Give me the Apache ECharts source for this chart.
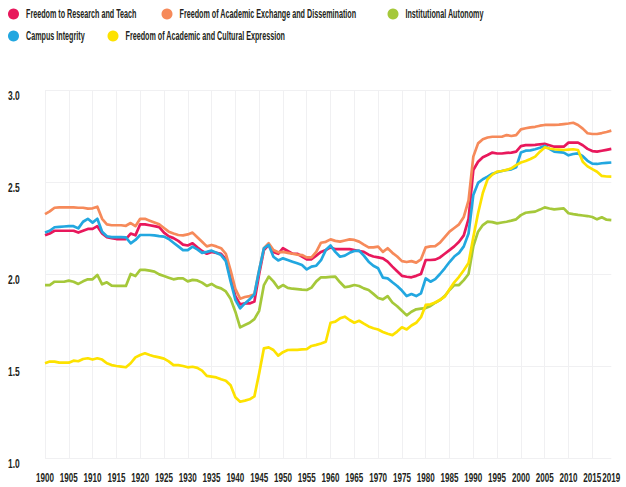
<!DOCTYPE html>
<html>
<head>
<meta charset="utf-8">
<script src="https://cdn.jsdelivr.net/npm/echarts@6/dist/echarts.min.js"></script>
<style>
    html, body { margin: 0; padding: 0; background: #fff; }
    #chart { width: 626px; height: 487px; }
</style>
</head>
<body>
<div id="chart"></div>
<script>
const years = [];
for (let y = 1900; y <= 2019; y++) years.push(String(y));

const yTicks = [1.0, 1.5, 2.0, 2.5, 3.0];

// Freedom to Research and Teach
const researchTeach = [
    2.21, 2.22, 2.235, 2.235, 2.235, 2.235, 2.235, 2.225, 2.235, 2.245,
    2.245, 2.26, 2.22, 2.20, 2.195, 2.19, 2.19, 2.19, 2.22, 2.21,
    2.27, 2.27, 2.265, 2.26, 2.255, 2.225, 2.205, 2.195, 2.18, 2.16,
    2.155, 2.167, 2.145, 2.125, 2.11, 2.12, 2.115, 2.11, 2.08, 1.98,
    1.88, 1.835, 1.84, 1.84, 1.85, 2.00, 2.13, 2.158, 2.12, 2.11,
    2.14, 2.125, 2.11, 2.11, 2.095, 2.08, 2.08, 2.10, 2.12, 2.13,
    2.145, 2.135, 2.135, 2.135, 2.135, 2.13, 2.125, 2.12, 2.105, 2.095,
    2.09, 2.085, 2.067, 2.04, 2.015, 1.99, 1.985, 1.982, 1.99, 2.00,
    2.076, 2.076, 2.078, 2.09, 2.11, 2.13, 2.15, 2.175, 2.21, 2.30,
    2.565, 2.61, 2.635, 2.647, 2.66, 2.655, 2.655, 2.658, 2.66, 2.665,
    2.695, 2.70, 2.70, 2.702, 2.705, 2.707, 2.70, 2.692, 2.692, 2.692,
    2.714, 2.714, 2.714, 2.70, 2.68, 2.668, 2.665, 2.67, 2.675, 2.68
];

// Freedom of Academic Exchange and Dissemination
const exchange = [
    2.325, 2.34, 2.36, 2.362, 2.362, 2.362, 2.362, 2.36, 2.36, 2.355,
    2.357, 2.366, 2.30, 2.27, 2.265, 2.265, 2.265, 2.262, 2.277, 2.26,
    2.30, 2.30, 2.29, 2.28, 2.27, 2.25, 2.23, 2.22, 2.212, 2.21,
    2.215, 2.225, 2.20, 2.175, 2.15, 2.158, 2.15, 2.14, 2.11, 2.02,
    1.92, 1.866, 1.875, 1.88, 1.89, 2.02, 2.14, 2.167, 2.13, 2.118,
    2.12, 2.115, 2.11, 2.105, 2.103, 2.09, 2.09, 2.12, 2.17, 2.175,
    2.188, 2.18, 2.176, 2.182, 2.188, 2.185, 2.176, 2.16, 2.145, 2.145,
    2.149, 2.12, 2.14, 2.115, 2.095, 2.07, 2.065, 2.07, 2.062, 2.08,
    2.145, 2.15, 2.152, 2.17, 2.20, 2.23, 2.25, 2.27, 2.31, 2.40,
    2.638, 2.71, 2.732, 2.742, 2.746, 2.746, 2.746, 2.755, 2.75, 2.755,
    2.786, 2.792, 2.797, 2.80, 2.806, 2.81, 2.81, 2.81, 2.812, 2.815,
    2.818, 2.822, 2.81, 2.79, 2.765, 2.761, 2.761, 2.766, 2.772, 2.779
];

// Institutional Autonomy
const autonomy = [
    1.94, 1.94, 1.958, 1.958, 1.958, 1.964, 1.958, 1.946, 1.96, 1.971,
    1.971, 1.995, 1.944, 1.955, 1.937, 1.935, 1.935, 1.935, 2.00, 1.989,
    2.022, 2.022, 2.018, 2.013, 1.998, 1.989, 1.98, 1.971, 1.976, 1.976,
    1.96, 1.968, 1.965, 1.953, 1.935, 1.946, 1.93, 1.922, 1.905, 1.865,
    1.795, 1.71, 1.723, 1.735, 1.755, 1.80, 1.94, 1.986, 1.96, 1.924,
    1.94, 1.925, 1.92, 1.918, 1.915, 1.913, 1.926, 1.96, 1.982, 1.982,
    1.984, 1.986, 1.955, 1.928, 1.933, 1.94, 1.935, 1.922, 1.913, 1.892,
    1.87, 1.862, 1.88, 1.845, 1.825, 1.80, 1.775, 1.795, 1.808, 1.812,
    1.815, 1.826, 1.844, 1.858, 1.88, 1.913, 1.94, 1.94, 1.967, 2.00,
    2.15, 2.23, 2.266, 2.285, 2.282, 2.275, 2.28, 2.284, 2.29, 2.297,
    2.32, 2.333, 2.336, 2.339, 2.35, 2.362, 2.356, 2.351, 2.354, 2.357,
    2.33, 2.325, 2.321, 2.318, 2.315, 2.31, 2.297, 2.308, 2.295, 2.293
];

// Campus Integrity
const integrity = [
    2.225, 2.235, 2.254, 2.256, 2.258, 2.26, 2.26, 2.248, 2.284, 2.30,
    2.279, 2.30, 2.23, 2.205, 2.20, 2.20, 2.20, 2.199, 2.167, 2.185,
    2.212, 2.212, 2.212, 2.21, 2.206, 2.203, 2.19, 2.17, 2.15, 2.13,
    2.13, 2.149, 2.134, 2.115, 2.12, 2.127, 2.115, 2.103, 2.07, 1.96,
    1.86, 1.813, 1.84, 1.862, 1.89, 2.02, 2.14, 2.158, 2.094, 2.074,
    2.085, 2.076, 2.067, 2.058, 2.049, 2.025, 2.04, 2.045, 2.075, 2.13,
    2.155, 2.12, 2.094, 2.10, 2.115, 2.125, 2.127, 2.10, 2.067, 2.045,
    2.031, 1.98, 1.976, 1.955, 1.935, 1.91, 1.88, 1.891, 1.88, 1.895,
    1.976, 1.958, 1.972, 2.00, 2.031, 2.065, 2.095, 2.115, 2.15, 2.22,
    2.43, 2.495, 2.515, 2.529, 2.545, 2.553, 2.56, 2.565, 2.569, 2.58,
    2.66, 2.67, 2.672, 2.678, 2.686, 2.696, 2.68, 2.665, 2.662, 2.66,
    2.645, 2.652, 2.656, 2.64, 2.615, 2.60, 2.598, 2.602, 2.604, 2.606
];

// Freedom of Academic and Cultural Expression
const expression = [
    1.515, 1.524, 1.524, 1.518, 1.518, 1.518, 1.529, 1.526, 1.538, 1.542,
    1.535, 1.542, 1.535, 1.515, 1.505, 1.50, 1.497, 1.493, 1.515, 1.547,
    1.56, 1.569, 1.56, 1.552, 1.547, 1.54, 1.525, 1.505, 1.505, 1.50,
    1.493, 1.496, 1.49, 1.475, 1.446, 1.442, 1.438, 1.428, 1.42, 1.395,
    1.33, 1.306, 1.312, 1.319, 1.335, 1.46, 1.596, 1.601, 1.587, 1.556,
    1.575, 1.587, 1.588, 1.588, 1.59, 1.592, 1.609, 1.615, 1.622, 1.632,
    1.735, 1.741, 1.759, 1.768, 1.75, 1.735, 1.746, 1.73, 1.715, 1.705,
    1.698, 1.685, 1.675, 1.668, 1.687, 1.71, 1.699, 1.72, 1.735, 1.765,
    1.832, 1.835, 1.845, 1.86, 1.877, 1.917, 1.955, 1.985, 2.02, 2.06,
    2.20, 2.33, 2.44, 2.515, 2.54, 2.556, 2.56, 2.566, 2.574, 2.592,
    2.606, 2.614, 2.625, 2.638, 2.665, 2.688, 2.682, 2.678, 2.676, 2.674,
    2.676, 2.678, 2.674, 2.61, 2.585, 2.57, 2.556, 2.533, 2.53, 2.529
];

const seriesDefs = [
    { name: "Institutional Autonomy", data: autonomy, color: "#a5c83a" },
    { name: "Freedom to Research and Teach", data: researchTeach, color: "#e8185c" },
    { name: "Freedom of Academic Exchange and Dissemination", data: exchange, color: "#f68a5a" },
    { name: "Campus Integrity", data: integrity, color: "#22a7e0" },
    { name: "Freedom of Academic and Cultural Expression", data: expression, color: "#fde200" }
];

const font = "'Liberation Sans', Arial, sans-serif";
const ink = "#231f20";

// one legend per item so each sits where it does in the original
const legendSpots = [
    { name: "Freedom to Research and Teach", left: 8, top: 8 },
    { name: "Freedom of Academic Exchange and Dissemination", left: 161.5, top: 8 },
    { name: "Institutional Autonomy", left: 387.5, top: 8 },
    { name: "Campus Integrity", left: 8, top: 30 },
    { name: "Freedom of Academic and Cultural Expression", left: 107.5, top: 30 }
];

const everyFive = (idx) => (1900 + idx) % 5 === 0;
const lastYear = (idx) => idx === years.length - 1;

// the original uses a tall, very condensed face; squeeze the svg text to match
function squeezeText() {
    document.querySelectorAll("#chart svg text").forEach(t => {
        if (t.dataset.sq) return;
        const isNum = /^[\d.]+$/.test(t.textContent.trim());
        const kx = isNum ? 0.77 : 0.6;
        const ky = isNum ? 1.18 : 1;
        const x = parseFloat(t.getAttribute("x") || 0);
        const y = parseFloat(t.getAttribute("y") || 0);
        const tr = t.getAttribute("transform") || "";
        t.setAttribute("transform", `${tr} translate(${x} ${y}) scale(${kx} ${ky}) translate(${-x} ${-y})`);
        t.dataset.sq = "1";
    });
}

const xLabel = {
    showMinLabel: true,
    showMaxLabel: true,
    hideOverlap: false,
    margin: 14,
    fontFamily: font,
    fontSize: 10.5,
    fontWeight: "bold",
    color: ink
};

const chart = echarts.init(document.getElementById("chart"), null, { renderer: "svg" });

chart.setOption({
    animation: false,
    backgroundColor: "#fff",
    legend: legendSpots.map(l => ({
        data: [l.name],
        left: l.left,
        top: l.top,
        padding: 0,
        icon: "circle",
        itemWidth: 11,
        itemHeight: 11,
        textStyle: {
            fontFamily: font,
            fontSize: 12,
            fontWeight: "bold",
            color: ink,
            padding: [0, 0, 0, 2]
        }
    })),
    grid: { left: 45, right: 8, top: 90, bottom: 29, containLabel: false },
    xAxis: [
        {
            type: "category",
            boundaryGap: false,
            data: years,
            axisLine: { show: false },
            axisTick: { show: false },
            axisLabel: Object.assign({ interval: everyFive }, xLabel),
            splitLine: {
                show: true,
                interval: everyFive,
                lineStyle: { color: "#f0f0f2", width: 1 }
            }
        },
        {
            // second copy of the year axis only to print 2019 next to 2015
            type: "category",
            position: "bottom",
            boundaryGap: false,
            data: years,
            axisLine: { show: false },
            axisTick: { show: false },
            axisLabel: Object.assign({ interval: lastYear }, xLabel, { showMinLabel: false }),
            splitLine: { show: false }
        }
    ],
    yAxis: {
        type: "value",
        min: yTicks[0],
        max: yTicks[yTicks.length - 1],
        interval: 0.5,
        axisLine: { show: false },
        axisTick: { show: false },
        axisLabel: {
            align: "left",
            verticalAlign: "top",
            margin: 37,
            formatter: v => v.toFixed(1),
            fontFamily: font,
            fontSize: 11,
            fontWeight: "bold",
            color: ink
        },
        splitLine: { lineStyle: { color: "#f0f0f2", width: 1 } }
    },
    series: seriesDefs.map(s => ({
        name: s.name,
        type: "line",
        data: s.data,
        showSymbol: false,
        symbol: "circle",
        color: s.color,
        lineStyle: { width: 2.7, color: s.color, join: "round" }
    }))
});

chart.on("finished", squeezeText);
setTimeout(squeezeText, 50);
</script>
</body>
</html>
